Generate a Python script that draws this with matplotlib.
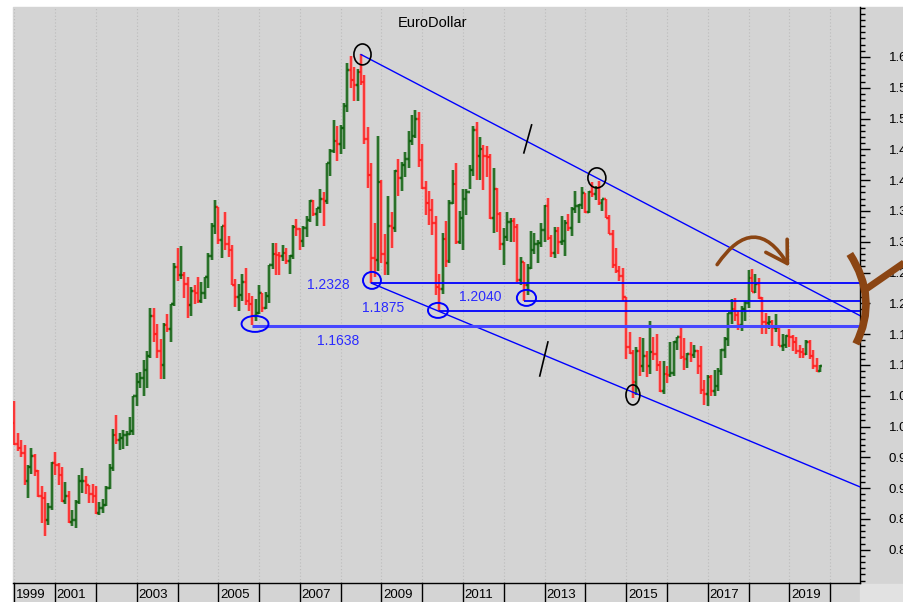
import numpy as np
import pandas as pd
import matplotlib
matplotlib.use("Agg")
import matplotlib.pyplot as plt
import matplotlib.transforms as mtransforms
from matplotlib.collections import LineCollection
from matplotlib.patches import Ellipse, FancyArrowPatch, PathPatch, Rectangle
from matplotlib.path import Path
from matplotlib.ticker import MultipleLocator, FormatStrFormatter

plt.rcParams['font.family'] = ['Liberation Sans', 'DejaVu Sans']

# monthly EUR/USD bars, Jan 2000 .. Oct 2019 (one row per year)
opens = [
    1.0062, 0.9709, 0.9657, 0.9574, 0.9120, 0.9338, 0.9525, 0.9270, 0.8880, 0.8836, 0.8488, 0.8697,
    0.9400, 0.9380, 0.9210, 0.8790, 0.8880, 0.8450, 0.8480, 0.8770, 0.9110, 0.9110, 0.9050, 0.8900,
    0.8880, 0.8600, 0.8680, 0.8720, 0.9010, 0.9330, 0.9860, 0.9780, 0.9810, 0.9870, 0.9880, 0.9920,
    1.0490, 1.0730, 1.0780, 1.0910, 1.1150, 1.1800, 1.1500, 1.1230, 1.1000, 1.1650, 1.1580, 1.1990,
    1.2590, 1.2460, 1.2460, 1.2310, 1.1970, 1.2200, 1.2170, 1.2030, 1.2170, 1.2430, 1.2760, 1.3260,
    1.3560, 1.3030, 1.3250, 1.2960, 1.2870, 1.2300, 1.2100, 1.2130, 1.2340, 1.2030, 1.1990, 1.1790,
    1.1840, 1.2160, 1.1920, 1.2120, 1.2620, 1.2800, 1.2790, 1.2760, 1.2810, 1.2680, 1.2760, 1.3240,
    1.3200, 1.3010, 1.3230, 1.3360, 1.3660, 1.3450, 1.3540, 1.3690, 1.3660, 1.4270, 1.4480, 1.4630,
    1.4590, 1.4850, 1.5200, 1.5790, 1.5620, 1.5540, 1.5750, 1.5600, 1.4670, 1.4090, 1.2740, 1.2700,
    1.3970, 1.2800, 1.2660, 1.3250, 1.3230, 1.4150, 1.4030, 1.4250, 1.4340, 1.4640, 1.4720, 1.5000,
    1.4320, 1.3870, 1.3630, 1.3510, 1.3300, 1.2270, 1.2230, 1.3050, 1.2690, 1.3630, 1.3940, 1.2990,
    1.3380, 1.3690, 1.3810, 1.4160, 1.4810, 1.4390, 1.4500, 1.4390, 1.4380, 1.3390, 1.3860, 1.3450,
    1.2960, 1.3080, 1.3320, 1.3340, 1.3240, 1.2380, 1.2670, 1.2300, 1.2580, 1.2860, 1.2960, 1.2980,
    1.3190, 1.3580, 1.3060, 1.2820, 1.3170, 1.2990, 1.3010, 1.3300, 1.3220, 1.3530, 1.3580, 1.3590,
    1.3790, 1.3490, 1.3800, 1.3770, 1.3870, 1.3630, 1.3690, 1.3390, 1.3130, 1.2630, 1.2530, 1.2450,
    1.2100, 1.1290, 1.1200, 1.0730, 1.1220, 1.0990, 1.1150, 1.0980, 1.1210, 1.1180, 1.1000, 1.0570,
    1.0860, 1.0830, 1.0870, 1.1380, 1.1450, 1.1130, 1.1100, 1.1170, 1.1160, 1.1230, 1.0980, 1.0590,
    1.0520, 1.0800, 1.0570, 1.0650, 1.0900, 1.1240, 1.1420, 1.1840, 1.1910, 1.1810, 1.1640, 1.1900,
    1.2000, 1.2410, 1.2190, 1.2320, 1.2080, 1.1690, 1.1680, 1.1690, 1.1600, 1.1600, 1.1310, 1.1320,
    1.1470, 1.1450, 1.1370, 1.1220, 1.1210, 1.1170, 1.1370, 1.1150, 1.0990, 1.0900,
]
highs = [
    1.0414, 0.9888, 0.9780, 0.9700, 0.9380, 0.9650, 0.9560, 0.9300, 0.9040, 0.8930, 0.8760, 0.9420,
    0.9590, 0.9410, 0.9350, 0.9100, 0.8960, 0.8640, 0.8810, 0.9210, 0.9320, 0.9200, 0.9050, 0.9060,
    0.9040, 0.8780, 0.8830, 0.9030, 0.9390, 0.9960, 1.0190, 0.9900, 0.9950, 0.9930, 1.0150, 1.0500,
    1.0870, 1.0880, 1.1080, 1.1220, 1.1930, 1.1930, 1.1660, 1.1420, 1.1680, 1.1820, 1.1990, 1.2650,
    1.2900, 1.2930, 1.2510, 1.2420, 1.2270, 1.2290, 1.2430, 1.2340, 1.2420, 1.2820, 1.3300, 1.3670,
    1.3560, 1.3250, 1.3480, 1.3100, 1.2940, 1.2400, 1.2320, 1.2470, 1.2580, 1.2170, 1.2120, 1.2070,
    1.2290, 1.2160, 1.2180, 1.2630, 1.2980, 1.2980, 1.2840, 1.2940, 1.2890, 1.2780, 1.3270, 1.3370,
    1.3220, 1.3250, 1.3410, 1.3680, 1.3680, 1.3540, 1.3850, 1.3800, 1.4280, 1.4500, 1.4970, 1.4880,
    1.4890, 1.5250, 1.5900, 1.6020, 1.5830, 1.5800, 1.6040, 1.5710, 1.4870, 1.4280, 1.3300, 1.4720,
    1.4000, 1.3120, 1.3740, 1.3490, 1.4170, 1.4340, 1.4290, 1.4450, 1.4790, 1.5060, 1.5140, 1.5100,
    1.4580, 1.3990, 1.3820, 1.3690, 1.3410, 1.2470, 1.3140, 1.3330, 1.3680, 1.4160, 1.4280, 1.3500,
    1.3860, 1.3860, 1.4250, 1.4880, 1.4940, 1.4700, 1.4570, 1.4550, 1.4420, 1.4200, 1.3880, 1.3490,
    1.3230, 1.3490, 1.3390, 1.3380, 1.3290, 1.2750, 1.2670, 1.2640, 1.3170, 1.3140, 1.3020, 1.3310,
    1.3590, 1.3710, 1.3110, 1.3240, 1.3240, 1.3420, 1.3350, 1.3450, 1.3570, 1.3830, 1.3620, 1.3890,
    1.3790, 1.3830, 1.3970, 1.3900, 1.3990, 1.3690, 1.3700, 1.3440, 1.3190, 1.2890, 1.2600, 1.2570,
    1.2100, 1.1530, 1.1240, 1.1290, 1.1460, 1.1440, 1.1220, 1.1710, 1.1460, 1.1500, 1.1060, 1.1060,
    1.0990, 1.1380, 1.1390, 1.1460, 1.1620, 1.1430, 1.1190, 1.1370, 1.1330, 1.1250, 1.1300, 1.0760,
    1.0830, 1.0830, 1.0910, 1.0950, 1.1260, 1.1450, 1.1850, 1.2070, 1.2090, 1.1880, 1.1960, 1.2030,
    1.2540, 1.2560, 1.2480, 1.2410, 1.2100, 1.1850, 1.1790, 1.1730, 1.1820, 1.1620, 1.1500, 1.1490,
    1.1580, 1.1490, 1.1450, 1.1320, 1.1270, 1.1410, 1.1410, 1.1250, 1.1110, 1.1000,
]
lows = [
    0.9705, 0.9608, 0.9510, 0.9050, 0.8845, 0.9230, 0.9200, 0.8850, 0.8440, 0.8230, 0.8400, 0.8640,
    0.9220, 0.9050, 0.8770, 0.8750, 0.8440, 0.8380, 0.8360, 0.8740, 0.8920, 0.8900, 0.8760, 0.8760,
    0.8580, 0.8560, 0.8600, 0.8710, 0.8990, 0.9280, 0.9720, 0.9620, 0.9640, 0.9690, 0.9870, 0.9860,
    1.0340, 1.0630, 1.0500, 1.0620, 1.1120, 1.1380, 1.1110, 1.0770, 1.0770, 1.1530, 1.1370, 1.1960,
    1.2370, 1.2400, 1.2080, 1.1760, 1.1800, 1.1990, 1.2010, 1.2010, 1.2070, 1.2250, 1.2700, 1.3130,
    1.2960, 1.2730, 1.2870, 1.2750, 1.2290, 1.1940, 1.1870, 1.2040, 1.1980, 1.1870, 1.1640, 1.1710,
    1.1830, 1.1860, 1.1900, 1.2000, 1.2560, 1.2460, 1.2460, 1.2690, 1.2640, 1.2480, 1.2720, 1.3100,
    1.2860, 1.2920, 1.3080, 1.3320, 1.3410, 1.3260, 1.3470, 1.3260, 1.3620, 1.4060, 1.4440, 1.4310,
    1.4430, 1.4510, 1.5110, 1.5500, 1.5280, 1.5290, 1.5550, 1.4580, 1.3880, 1.2330, 1.2420, 1.2530,
    1.2660, 1.2460, 1.2460, 1.2890, 1.3160, 1.3740, 1.3830, 1.4050, 1.4200, 1.4570, 1.4680, 1.4210,
    1.3860, 1.3430, 1.3270, 1.3110, 1.2140, 1.1880, 1.2150, 1.2590, 1.2650, 1.3620, 1.2970, 1.2960,
    1.2870, 1.3430, 1.3860, 1.4060, 1.4000, 1.4000, 1.3840, 1.4050, 1.3370, 1.3140, 1.3150, 1.2860,
    1.2620, 1.3010, 1.3000, 1.2990, 1.2350, 1.2290, 1.2040, 1.2130, 1.2560, 1.2800, 1.2660, 1.2920,
    1.3000, 1.3020, 1.2750, 1.2740, 1.2800, 1.2950, 1.2760, 1.3170, 1.3100, 1.3460, 1.3300, 1.3530,
    1.3470, 1.3470, 1.3720, 1.3670, 1.3590, 1.3500, 1.3380, 1.3130, 1.2570, 1.2500, 1.2360, 1.2030,
    1.1100, 1.1180, 1.0460, 1.0510, 1.0820, 1.0890, 1.0800, 1.0850, 1.1080, 1.0900, 1.0560, 1.0520,
    1.0710, 1.0810, 1.0820, 1.1240, 1.1100, 1.0910, 1.0950, 1.1050, 1.1120, 1.0850, 1.0520, 1.0350,
    1.0340, 1.0500, 1.0490, 1.0570, 1.0840, 1.1120, 1.1310, 1.1660, 1.1720, 1.1570, 1.1550, 1.1720,
    1.1920, 1.2190, 1.2160, 1.2070, 1.1510, 1.1510, 1.1580, 1.1300, 1.1530, 1.1300, 1.1220, 1.1280,
    1.1290, 1.1230, 1.1170, 1.1110, 1.1110, 1.1160, 1.1100, 1.0930, 1.0880, 1.0880,
]
closes = [
    0.9709, 0.9657, 0.9574, 0.9120, 0.9338, 0.9525, 0.9270, 0.8880, 0.8836, 0.8488, 0.8697, 0.9400,
    0.9380, 0.9210, 0.8790, 0.8880, 0.8450, 0.8480, 0.8770, 0.9110, 0.9110, 0.9050, 0.8900, 0.8880,
    0.8600, 0.8680, 0.8720, 0.9010, 0.9330, 0.9860, 0.9780, 0.9810, 0.9870, 0.9880, 0.9920, 1.0490,
    1.0730, 1.0780, 1.0910, 1.1150, 1.1800, 1.1500, 1.1230, 1.1000, 1.1650, 1.1580, 1.1990, 1.2590,
    1.2460, 1.2460, 1.2310, 1.1970, 1.2200, 1.2170, 1.2030, 1.2170, 1.2430, 1.2760, 1.3260, 1.3560,
    1.3030, 1.3250, 1.2960, 1.2870, 1.2300, 1.2100, 1.2130, 1.2340, 1.2030, 1.1990, 1.1790, 1.1840,
    1.2160, 1.1920, 1.2120, 1.2620, 1.2800, 1.2790, 1.2760, 1.2810, 1.2680, 1.2760, 1.3240, 1.3200,
    1.3010, 1.3230, 1.3360, 1.3660, 1.3450, 1.3540, 1.3690, 1.3660, 1.4270, 1.4480, 1.4630, 1.4590,
    1.4850, 1.5200, 1.5790, 1.5620, 1.5540, 1.5750, 1.5600, 1.4670, 1.4090, 1.2740, 1.2700, 1.3970,
    1.2800, 1.2660, 1.3250, 1.3230, 1.4150, 1.4030, 1.4250, 1.4340, 1.4640, 1.4720, 1.5000, 1.4320,
    1.3870, 1.3630, 1.3510, 1.3300, 1.2270, 1.2230, 1.3050, 1.2690, 1.3630, 1.3940, 1.2990, 1.3380,
    1.3690, 1.3810, 1.4160, 1.4810, 1.4390, 1.4500, 1.4390, 1.4380, 1.3390, 1.3860, 1.3450, 1.2960,
    1.3080, 1.3320, 1.3340, 1.3240, 1.2380, 1.2670, 1.2300, 1.2580, 1.2860, 1.2960, 1.2980, 1.3190,
    1.3580, 1.3060, 1.2820, 1.3170, 1.2990, 1.3010, 1.3300, 1.3220, 1.3530, 1.3580, 1.3590, 1.3790,
    1.3490, 1.3800, 1.3770, 1.3870, 1.3630, 1.3690, 1.3390, 1.3130, 1.2630, 1.2530, 1.2450, 1.2100,
    1.1290, 1.1200, 1.0730, 1.1220, 1.0990, 1.1150, 1.0980, 1.1210, 1.1180, 1.1000, 1.0570, 1.0860,
    1.0830, 1.0870, 1.1380, 1.1450, 1.1130, 1.1100, 1.1170, 1.1160, 1.1230, 1.0980, 1.0590, 1.0520,
    1.0800, 1.0570, 1.0650, 1.0900, 1.1240, 1.1420, 1.1840, 1.1910, 1.1810, 1.1640, 1.1900, 1.2000,
    1.2410, 1.2190, 1.2320, 1.2080, 1.1690, 1.1680, 1.1690, 1.1600, 1.1600, 1.1310, 1.1320, 1.1470,
    1.1450, 1.1370, 1.1220, 1.1210, 1.1170, 1.1370, 1.1150, 1.0990, 1.0900, 1.0980,
]

# support levels and where each one starts
levels = [1.2328, 1.2040, 1.1875, 1.1638]
level_starts = [2008.75, 2012.50, 2010.417, 2005.833]
level_labels = ["1.2328", "1.2040", "1.1875", "1.1638"]
label_x = [2007.70, 2011.41, 2009.03, 2007.94]
label_y = [1.2299, 1.2104, 1.1925, 1.1390]

# channel lines (x in years, y in price)
upper_x, upper_y = [2008.50, 2020.73], [1.6038, 1.1800]
lower_x, lower_y = [2008.75, 2020.73], [1.2328, 0.9020]

# circled turning points: (x, y, width, height)
black_marks = [(2008.534, 1.6040, 0.42, 0.034), (2014.28, 1.4036, 0.44, 0.0325),
               (2015.163, 1.0513, 0.34, 0.0325)]
blue_marks = [(2008.767, 1.2372, 0.44, 0.0276), (2005.90, 1.1666, 0.66, 0.026),
              (2010.385, 1.1885, 0.49, 0.0244), (2012.554, 1.2088, 0.47, 0.026)]

year_boxes = list(range(2000, 2021))
year_label_pos = [2000, 2001, 2003, 2005, 2007, 2009, 2011, 2013, 2015, 2017, 2019]
year_label_txt = ["1999", "2001", "2003", "2005", "2007", "2009", "2011", "2013",
                  "2015", "2017", "2019"]

BG = '#d4d4d4'
UP, UP_GLOW = '#0b5e0b', '#5d955d'
DOWN, DOWN_GLOW = '#ff1a1a', '#ff7a7a'
BLUE = '#0000ff'
BROWN = '#8b4513'

W, H = 904, 602
fig = plt.figure(figsize=(W / 100, H / 100), dpi=100)
fig.patch.set_facecolor('white')
fig.add_artist(Rectangle((12.7 / W, 0), 1, (H - 7) / H, transform=fig.transFigure,
                         color=BG, zorder=-2))
fig.add_artist(Rectangle((860 / W, 0), 1, 18 / H, transform=fig.transFigure,
                         color='#e2e2e2', zorder=-1))
ax = fig.add_axes([12.7 / W, 19 / H, (860 - 12.7) / W, (583 - 7) / H])
ax.set_facecolor(BG)
ax.set_xlim(1999.96, 2020.73)
ax.set_ylim(0.746, 1.681)

for s in ['left', 'top']:
    ax.spines[s].set_visible(False)
for s in ['right', 'bottom']:
    ax.spines[s].set_color('black')
    ax.spines[s].set_linewidth(1)

# x: dotted year grid, no ticks
ax.set_xticks(year_boxes)
ax.tick_params(axis='x', length=0, labelbottom=False)
ax.grid(axis='x', color='#bcbcbc', linestyle=(0, (1, 2)), linewidth=0.8)
ax.set_axisbelow(True)

# y: right side ticks
ax.yaxis.tick_right()
ax.set_yticks(np.arange(0.80, 1.6001, 0.05))
ax.yaxis.set_minor_locator(MultipleLocator(0.01))
ax.yaxis.set_major_formatter(FormatStrFormatter('%.2f'))
ax.tick_params(axis='y', which='major', length=7.2, width=1, pad=13.5, labelsize=9.5)
ax.tick_params(axis='y', which='minor', length=3.6, width=1)

# OHLC bars
dates = pd.date_range("2000-01-01", periods=len(closes), freq="MS")
xs = dates.year + (dates.month - 1) / 12.0
tick = 0.045
segs, cols, glows = [], [], []
for xi, o, h, l, c in zip(xs, opens, highs, lows, closes):
    up = c >= o
    bar = [[(xi, l), (xi, h)], [(xi - tick, o), (xi, o)], [(xi, c), (xi + tick, c)]]
    segs += bar
    cols += [UP if up else DOWN] * 3
    glows += [UP_GLOW if up else DOWN_GLOW] * 3
ax.add_collection(LineCollection(segs, colors=glows, linewidths=2.8, alpha=0.55, zorder=2))
ax.add_collection(LineCollection(segs, colors=cols, linewidths=1.1, zorder=3))

# channel and support lines
ax.plot(upper_x, upper_y, color=BLUE, lw=1.0, zorder=4)
ax.plot(lower_x, lower_y, color=BLUE, lw=1.0, zorder=4)
xmax = ax.get_xlim()[1]
for lv, st in zip(levels, level_starts):
    if lv == 1.1638:
        ax.hlines(lv, st, xmax, color='#4646ff', lw=2.2, zorder=4)
    else:
        ax.hlines(lv, st, xmax, color=BLUE, lw=1.3, zorder=4)
for txt, tx, ty in zip(level_labels, label_x, label_y):
    ax.text(tx, ty, txt, color='#2a2aff', fontsize=10, ha='center', va='center', zorder=5)

for cx, cy, w, h in black_marks:
    ax.add_patch(Ellipse((cx, cy), w, h, fill=False, ec='black', lw=1.2, zorder=5))
for cx, cy, w, h in blue_marks:
    ax.add_patch(Ellipse((cx, cy), w, h, fill=False, ec=BLUE, lw=1.4, zorder=5))

# small slash marks on the channel lines
ax.plot([2012.49, 2012.68], [1.4442, 1.4896], color='black', lw=1.2, zorder=5)
ax.plot([2012.88, 2013.08], [1.0821, 1.1373], color='black', lw=1.2, zorder=5)

# brown hand drawn arrow and bracket
ax.add_patch(FancyArrowPatch((2017.19, 1.2591), (2019.03, 1.2558),
                             connectionstyle="arc3,rad=-0.8",
                             arrowstyle="->,head_length=0.75,head_width=0.45",
                             mutation_scale=20, lw=2.6, color=BROWN, zorder=6))
bracket = Path([(2020.48, 1.2802), (2021.19, 1.2071), (2020.63, 1.1341)],
               [Path.MOVETO, Path.CURVE3, Path.CURVE3])
ax.add_patch(PathPatch(bracket, fill=False, ec=BROWN, lw=5.5, clip_on=False,
                       capstyle='butt', zorder=6))
ax.plot([2020.85, 2022.10], [1.2218, 1.2790], color=BROWN, lw=5, clip_on=False,
        solid_capstyle='butt', zorder=6)

# year strip under the chart
trans = mtransforms.blended_transform_factory(ax.transData, ax.transAxes)
for yr in year_boxes:
    ax.plot([yr, yr], [0, -0.04], transform=trans, color='black', lw=1, clip_on=False)
for pos, txt in zip(year_label_pos, year_label_txt):
    ax.text(pos + 0.04, -0.021, txt, transform=trans, fontsize=9.5, ha='left',
            va='center', clip_on=False)

fig.text(432.8 / W, 1 - 23 / H, "EuroDollar", ha='center', va='center', fontsize=10.5)

fig.savefig("out.png", dpi=100)
